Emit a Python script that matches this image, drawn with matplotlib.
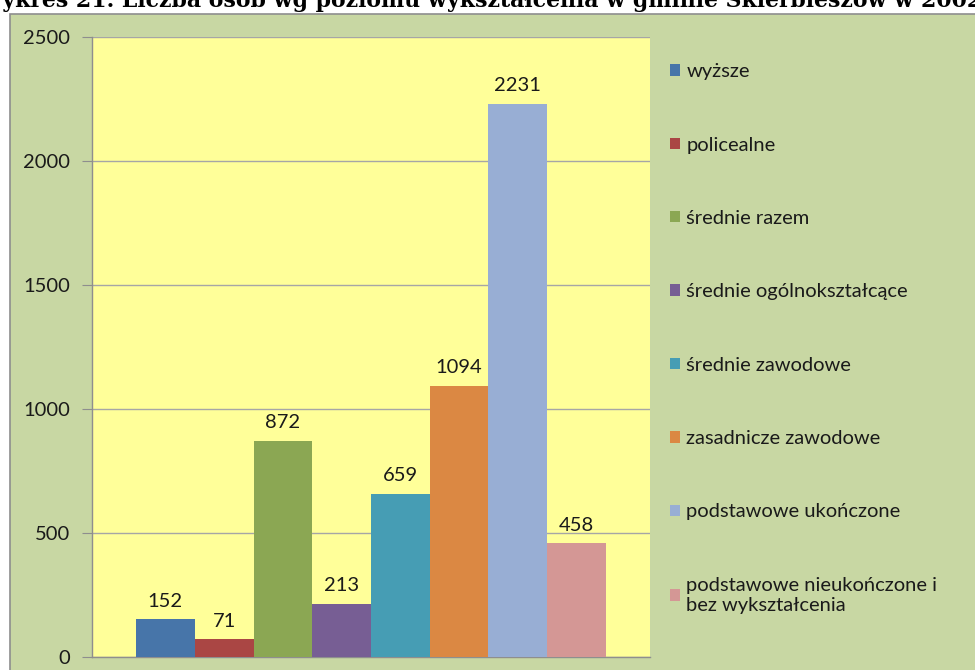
import matplotlib
matplotlib.use('Agg')
from matplotlib import pyplot as plt
from matplotlib.patches import Rectangle

# data
categories = ['wyższe', 'policealne', 'średnie razem', 'średnie ogólnokształcące',
              'średnie zawodowe', 'zasadnicze zawodowe', 'podstawowe ukończone',
              'podstawowe nieukończone i\nbez wykształcenia']
values = [152, 71, 872, 213, 659, 1094, 2231, 458]
colors = ['#4775A9', '#AA4644', '#8BA753', '#775E94', '#469DB4', '#DB8843', '#98AED4', '#D49795']
yticks = [0, 500, 1000, 1500, 2000, 2500]
title = 'Wykres 21. Liczba osób wg poziomu wykształcenia w gminie Skierbieszów w 2002 r.'

plt.rcParams['font.family'] = ['Lato', 'DejaVu Sans']

W, H = 975, 670
fig = plt.figure(figsize=(W / 100, H / 100), dpi=100)
fig.patch.set_facecolor('white')

# chart area (green) with grey frame
fig.patches.append(Rectangle((10 / W, -0.01), (W - 10) / W + 0.01, (H - 14) / H + 0.01,
                             transform=fig.transFigure, facecolor='#C8D7A3',
                             edgecolor='#8E8E8E', linewidth=1.2, zorder=-5))

fig.text(-22 / W, 1 - 7 / H, title, family='DejaVu Serif', fontweight='bold',
         fontsize=15.8, ha='left', va='baseline', color='black', zorder=-4)

ax = fig.add_axes([92 / W, 13 / H, (650 - 92) / W, (657 - 37) / H])
ax.set_facecolor('#FFFF99')

for i, (v, c, lab) in enumerate(zip(values, colors, categories)):
    ax.bar(i, v, width=1.0, color=c, label=lab, zorder=3)
    ax.annotate(str(v), (i, v), xytext=(0, 7), textcoords='offset points',
                ha='center', va='bottom', fontsize=14.5, color='#1a1a1a')

ax.set_xlim(-1.25, 8.25)
ax.set_ylim(0, 2500)
ax.set_yticks(yticks)
ax.set_xticks([])
ax.grid(axis='y', color='#A6A6A6', linewidth=1, zorder=1)
ax.tick_params(axis='y', length=7, color='#8E8E8E', pad=9, labelsize=14.5, labelcolor='#1a1a1a')
for s in ['top', 'right']:
    ax.spines[s].set_visible(False)
for s in ['left', 'bottom']:
    ax.spines[s].set_color('#8E8E8E')
    ax.spines[s].set_linewidth(1)

fig.legend(loc='upper left', bbox_to_anchor=(652 / W, 1 - 45 / H), frameon=False,
           fontsize=14.5, handlelength=0.5, handleheight=0.5, handletextpad=0.3,
           labelspacing=2.8, labelcolor='#1a1a1a')

fig.savefig('out.png', dpi=100, facecolor=fig.get_facecolor())
